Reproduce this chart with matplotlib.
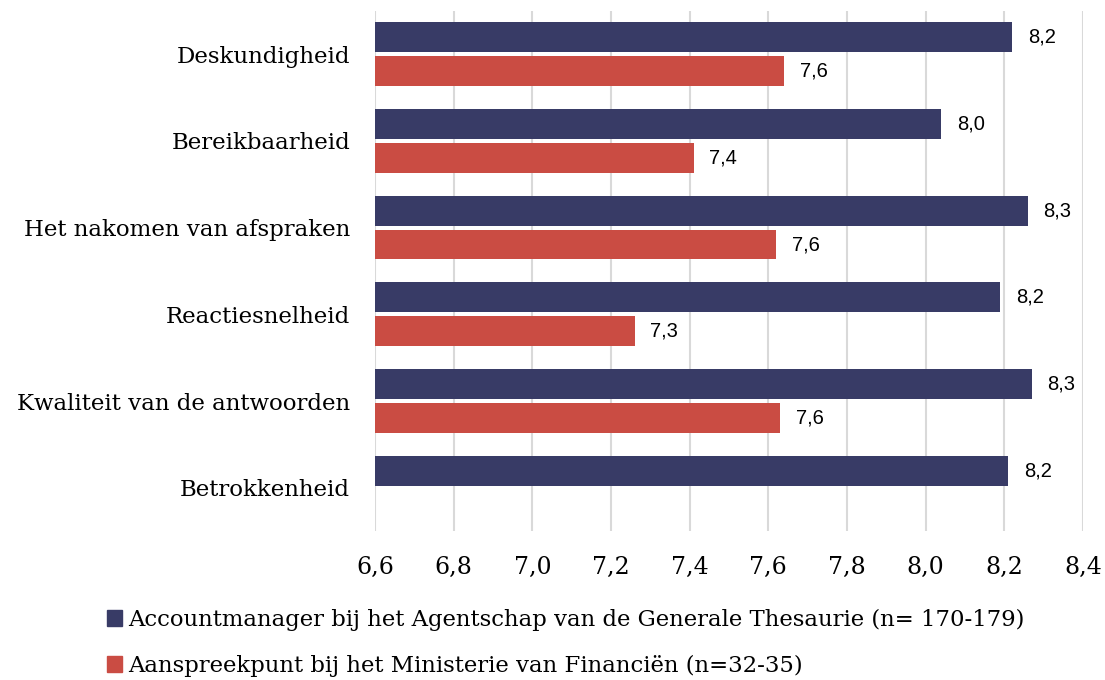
import numpy as np
import matplotlib
matplotlib.use("Agg")
import matplotlib.pyplot as plt
from matplotlib.patches import Patch

categories = ["Deskundigheid", "Bereikbaarheid", "Het nakomen van afspraken",
              "Reactiesnelheid", "Kwaliteit van de antwoorden", "Betrokkenheid"]
accountmanager = [8.22, 8.04, 8.26, 8.19, 8.27, 8.21]
aanspreekpunt = [7.64, 7.41, 7.62, 7.26, 7.63, None]
series_names = ["Accountmanager bij het Agentschap van de Generale Thesaurie (n= 170-179)",
                "Aanspreekpunt bij het Ministerie van Financiën (n=32-35)"]
xticks = [6.6, 6.8, 7.0, 7.2, 7.4, 7.6, 7.8, 8.0, 8.2, 8.4]

navy = "#383B66"
red = "#CA4C43"
serif = "DejaVu Serif"

fig = plt.figure(figsize=(11.05, 6.8), dpi=100)
ax = fig.add_axes([0.3394, 0.219, 0.6406, 0.765])

y = np.arange(len(categories))
h = 0.345
off = 0.195
for i, v in enumerate(accountmanager):
    ax.barh(y[i] - off, v - 6.6, left=6.6, height=h, color=navy, zorder=3)
    ax.text(v + 0.04, y[i] - off, f"{v:.1f}".replace(".", ","), va="center", ha="left",
            fontsize=14.5, family="Liberation Sans")
for i, v in enumerate(aanspreekpunt):
    if v is None:
        continue
    ax.barh(y[i] + off, v - 6.6, left=6.6, height=h, color=red, zorder=3)
    ax.text(v + 0.04, y[i] + off, f"{v:.1f}".replace(".", ","), va="center", ha="left",
            fontsize=14.5, family="Liberation Sans")

ax.set_xlim(6.6, 8.4)
ax.set_ylim(5.5, -0.5)
ax.set_xticks(xticks)
ax.set_xticklabels([f"{t:.1f}".replace(".", ",") for t in xticks], family=serif, fontsize=17)
ax.set_yticks(y)
ax.set_yticklabels(categories, family=serif, fontsize=16.5)
ax.tick_params(length=0, pad=18, axis="x")
ax.tick_params(length=0, pad=18, axis="y")
ax.grid(axis="x", color="#D9D9D9", linewidth=1.5, zorder=0)
for s in ax.spines.values():
    s.set_visible(False)

handles = [Patch(color=navy), Patch(color=red)]
fig.legend(handles, series_names, loc="upper left", bbox_to_anchor=(0.089, 0.118),
           frameon=False, prop={"family": serif, "size": 16.4}, handlelength=0.65,
           handleheight=0.65, handletextpad=0.25, labelspacing=1.05, borderaxespad=0)

fig.savefig("out.png", dpi=100)
